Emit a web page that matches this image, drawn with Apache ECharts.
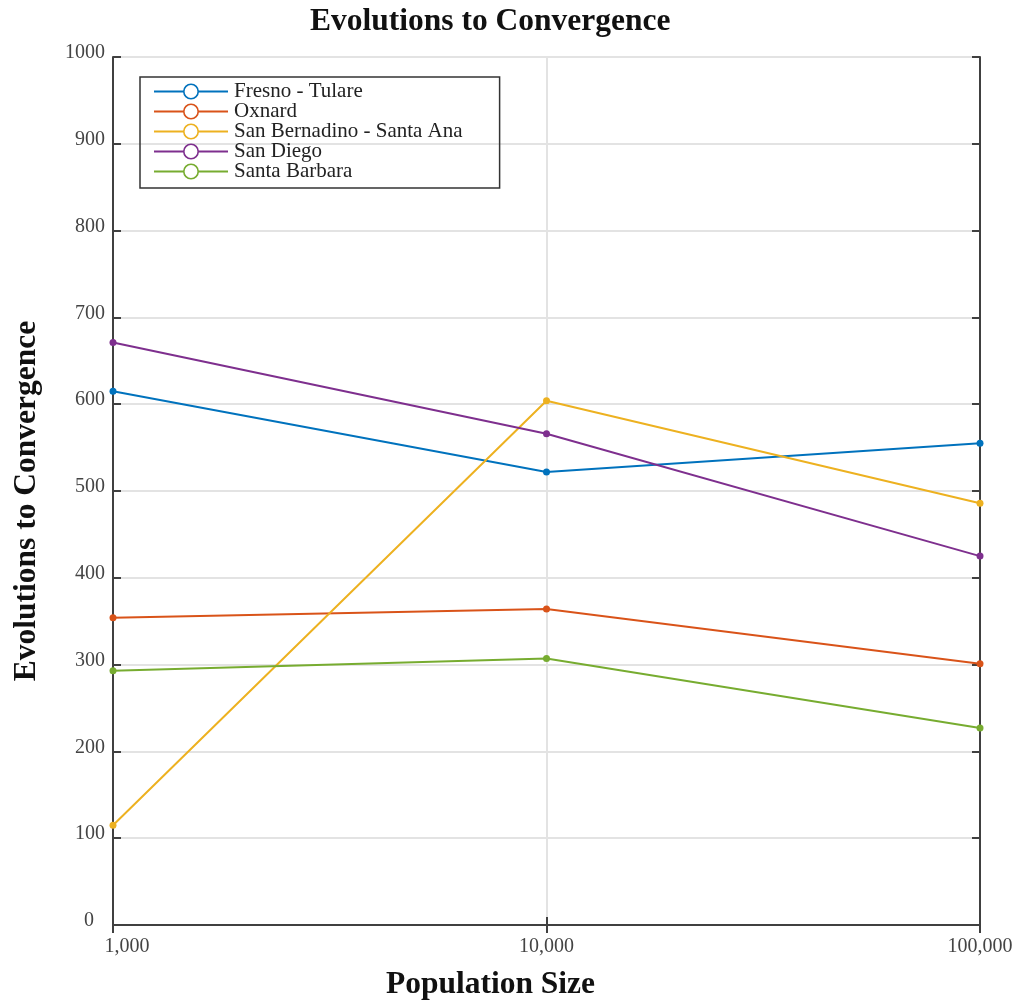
<!DOCTYPE html>
<html>
<head>
<meta charset="utf-8">
<script src="https://cdn.jsdelivr.net/npm/echarts@6/dist/echarts.min.js"></script>
<style>
  html, body { margin: 0; padding: 0; background: #fff; }
  #chart { width: 1020px; height: 1007px; }
</style>
</head>
<body>
<div id="chart"></div>
<script>
// population sizes (log x axis)
const popSizes = [1000, 10000, 100000]
const seriesNames = ['Fresno - Tulare', 'Oxnard', 'San Bernadino - Santa Ana', 'San Diego', 'Santa Barbara']
const fresnoTulare = [615, 522, 555]
const oxnard = [354, 364, 301]
const sanBernadino = [115, 604, 486]
const sanDiego = [671, 566, 425]
const santaBarbara = [293, 307, 227]
const yTicks = [0, 100, 200, 300, 400, 500, 600, 700, 800, 900, 1000]

const colors = ['#0072BD', '#D95319', '#EDB120', '#7E2F8E', '#77AC30']
const allValues = [fresnoTulare, oxnard, sanBernadino, sanDiego, santaBarbara]

const serif = 'Liberation Serif, Times New Roman, serif'
const axisColor = '#404040'

const chart = echarts.init(document.getElementById('chart'))

const fmt = v => v.toLocaleString('en-US')

const option = {
  animation: false,
  color: colors,
  title: {
    text: 'Evolutions to Convergence',
    left: 305,
    top: 1,
    textStyle: { fontFamily: serif, fontSize: 31.5, fontWeight: 'bold', color: '#111' }
  },
  legend: {
    orient: 'vertical',
    left: 140,
    top: 77,
    data: seriesNames,
    itemWidth: 74,
    itemHeight: 18,
    itemGap: -1,
    padding: [4, 37, 6, 13],
    borderColor: '#333',
    borderWidth: 1.5,
    textStyle: { fontFamily: serif, fontSize: 21, lineHeight: 18, color: '#222', padding: [0, 0, 0, 1] },
    itemStyle: { color: '#fff', borderWidth: 1.6 }
  },
  grid: { left: 113, right: 40, top: 57, bottom: 82 },
  xAxis: [
    {
      type: 'log',
      logBase: 10,
      min: 1000,
      max: 100000,
      name: 'Population Size',
      nameLocation: 'middle',
      nameGap: 44,
      nameTextStyle: { fontFamily: serif, fontSize: 31.5, fontWeight: 'bold', color: '#111', padding: [0, 112, 0, 0] },
      axisLine: { lineStyle: { color: axisColor, width: 2 } },
      axisTick: { inside: true, length: 8, lineStyle: { color: axisColor, width: 2 } },
      splitLine: { show: true, lineStyle: { color: '#e3e3e3', width: 2 } },
      minorTick: { show: false },
      axisLabel: {
        margin: 12,
        fontFamily: serif,
        fontSize: 20,
        color: '#444',
        formatter: v => (v === 1000 ? '{first|' + fmt(v) + '}' : fmt(v)),
        rich: { first: { fontFamily: serif, fontSize: 20, color: '#444', padding: [0, 0, 0, 28] } }
      }
    },
    {
      type: 'log',
      logBase: 10,
      min: 1000,
      max: 100000,
      position: 'top',
      axisLine: { lineStyle: { color: axisColor, width: 2 } },
      axisTick: { inside: true, length: 8, lineStyle: { color: axisColor, width: 2 } },
      axisLabel: { show: false },
      splitLine: { show: false }
    }
  ],
  yAxis: [
    {
      type: 'value',
      min: 0,
      max: 1000,
      interval: 100,
      name: 'Evolutions to Convergence',
      nameLocation: 'middle',
      nameGap: 70,
      nameTextStyle: { fontFamily: serif, fontSize: 31.5, fontWeight: 'bold', color: '#111', padding: [0, 20, 0, 0] },
      axisLine: { show: true, lineStyle: { color: axisColor, width: 2 } },
      axisTick: { show: true, inside: true, length: 8, lineStyle: { color: axisColor, width: 2 } },
      splitLine: { show: true, lineStyle: { color: '#e3e3e3', width: 2 } },
      axisLabel: {
        margin: 8,
        fontFamily: serif,
        fontSize: 20,
        color: '#444',
        padding: [0, 0, 8, 0],
        formatter: v => (yTicks.includes(v) ? (v === 0 ? '{zero|0}' : String(v)) : ''),
        rich: { zero: { fontFamily: serif, fontSize: 20, color: '#444', padding: [0, 11, 0, 0] } }
      }
    },
    {
      type: 'value',
      min: 0,
      max: 1000,
      interval: 100,
      position: 'right',
      axisLine: { show: true, lineStyle: { color: axisColor, width: 2 } },
      axisTick: { show: true, inside: true, length: 8, lineStyle: { color: axisColor, width: 2 } },
      axisLabel: { show: false },
      splitLine: { show: false }
    }
  ],
  series: seriesNames.map((name, i) => ({
    name,
    type: 'line',
    xAxisIndex: 0,
    yAxisIndex: 0,
    data: popSizes.map((p, j) => [p, allValues[i][j]]),
    symbol: 'circle',
    symbolSize: 7,
    lineStyle: { width: 2, color: colors[i] },
    itemStyle: { color: colors[i], borderColor: colors[i], borderWidth: 0 }
  }))
}

chart.setOption(option)
</script>
</body>
</html>
